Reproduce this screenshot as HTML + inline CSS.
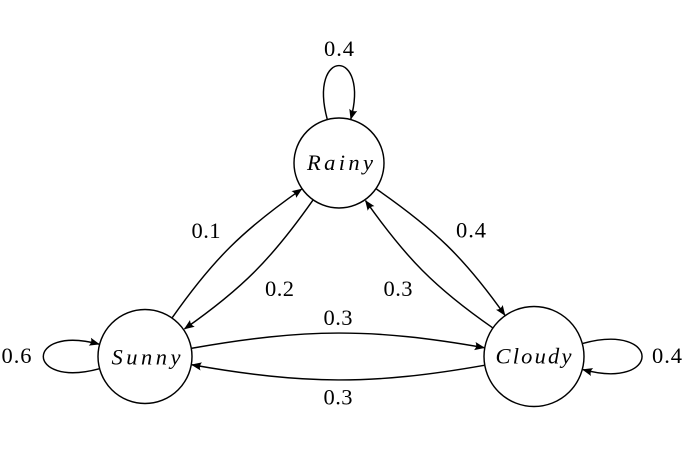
<!DOCTYPE html>
<html>
<head>
<meta charset="utf-8">
<style>
  html, body { margin: 0; padding: 0; background: #ffffff; }
  svg { display: block; }
  .lbl { font-family: "Liberation Serif", serif; font-size: 22.5px; fill: #000; }
  .node { font-family: "Liberation Serif", serif; font-style: italic; font-size: 22.5px; fill: #000; }
</style>
</head>
<body>
<svg width="695" height="464" viewBox="0 0 695 464" xmlns="http://www.w3.org/2000/svg">
  <defs>
    <marker id="a" markerWidth="14" markerHeight="12" viewBox="-12 -6 14 12" refX="0" refY="0" orient="auto" markerUnits="userSpaceOnUse" overflow="visible">
      <path d="M0.8,0 L-9.6,-4.1 Q-6.9,0 -9.6,4.1 Z" fill="#000"/>
    </marker>
  </defs>

  <g fill="none" stroke="#000" stroke-width="1.45">
    <path d="M172.3,317.6 C213.3,259.2 243.2,229.9 301.7,189.05" marker-end="url(#a)"/>
    <path d="M312.9,200.2 C271.9,258.6 242.4,288.4 184.5,328.9" marker-end="url(#a)"/>
    <path d="M376.4,189 C434.3,229.2 464.2,257.6 504.9,315.2" marker-end="url(#a)"/>
    <path d="M492.5,327.7 C434.6,287.5 405.9,257.8 365.5,200.6" marker-end="url(#a)"/>
    <path d="M191.8,348.25 C304.6,328.4 371.5,327.8 484.3,347.7" marker-end="url(#a)"/>
    <path d="M484.3,365.3 C371.5,385.2 304.6,384.65 191.8,364.75" marker-end="url(#a)"/>
    <path d="M327.2,119.05 C308.1,47.75 369.9,47.75 350.8,119.05" marker-end="url(#a)"/>
    <path d="M99.1,368.8 C24.7,388.7 24.7,324.3 99.1,344.2" marker-end="url(#a)"/>
    <path d="M582.8,343.4 C661.8,322.2 661.8,390.8 582.8,369.6" marker-end="url(#a)"/>
  </g>

  <g fill="#fff" stroke="#000" stroke-width="1.45">
    <circle cx="339" cy="163" r="45"/>
    <circle cx="145" cy="356.5" r="47"/>
    <circle cx="534" cy="356.5" r="50"/>
  </g>

  <text class="node" x="340" y="170" text-anchor="middle" textLength="66" lengthAdjust="spacing">Rainy</text>
  <text class="node" x="146" y="364.5" text-anchor="middle" textLength="69" lengthAdjust="spacing">Sunny</text>
  <text class="node" x="533.5" y="363.5" text-anchor="middle" textLength="76" lengthAdjust="spacing">Cloudy</text>

  <text class="lbl" x="339" y="56" text-anchor="middle" textLength="30" lengthAdjust="spacing">0.4</text>
  <text class="lbl" x="16.5" y="363" text-anchor="middle" textLength="30" lengthAdjust="spacing">0.6</text>
  <text class="lbl" x="667" y="363" text-anchor="middle" textLength="30" lengthAdjust="spacing">0.4</text>
  <text class="lbl" x="206" y="238" text-anchor="middle" textLength="29" lengthAdjust="spacing">0.1</text>
  <text class="lbl" x="279.5" y="296" text-anchor="middle" textLength="29" lengthAdjust="spacing">0.2</text>
  <text class="lbl" x="471" y="237.5" text-anchor="middle" textLength="30" lengthAdjust="spacing">0.4</text>
  <text class="lbl" x="398" y="296" text-anchor="middle" textLength="29" lengthAdjust="spacing">0.3</text>
  <text class="lbl" x="338" y="325" text-anchor="middle" textLength="29" lengthAdjust="spacing">0.3</text>
  <text class="lbl" x="338" y="404.5" text-anchor="middle" textLength="29" lengthAdjust="spacing">0.3</text>
</svg>
</body>
</html>
